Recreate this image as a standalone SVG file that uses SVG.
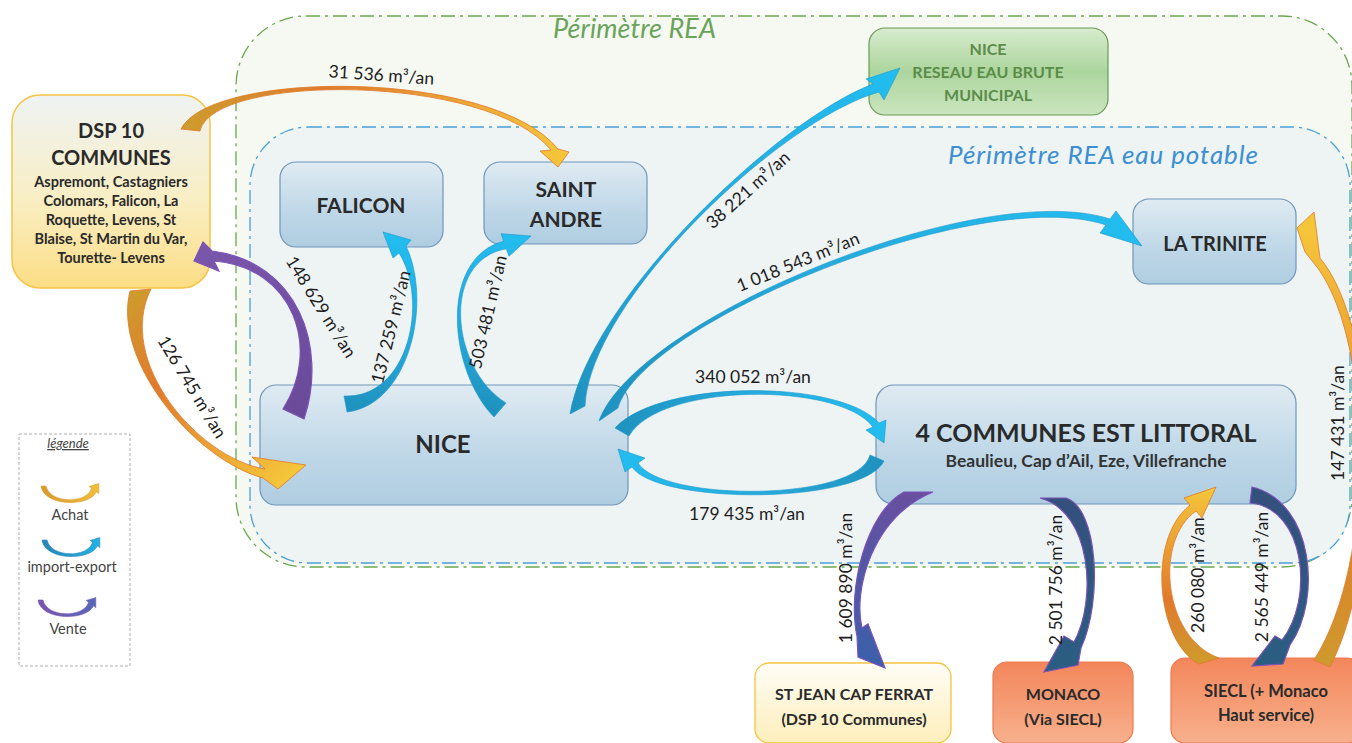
<svg xmlns="http://www.w3.org/2000/svg" xmlns:xlink="http://www.w3.org/1999/xlink" width="1352" height="743" viewBox="0 0 1352 743">
<defs>
<style>
.box{stroke:#6f97ba;stroke-width:1.2}
.t{font-family:Lato,'Liberation Sans',sans-serif;font-weight:700;fill:#2a2a2a;text-anchor:middle}
.lbl{font-family:Lato,'Liberation Sans',sans-serif;font-size:17.5px;fill:#1e1e1e;text-anchor:middle}
.leg{font-family:Lato,'Liberation Sans',sans-serif;font-size:14.5px;fill:#444;text-anchor:middle}
.ach{stroke:#e07a2a;stroke-width:0.8}
.imp{stroke:#1b97c8;stroke-width:0.6}
.ven{stroke:#7b52b8;stroke-width:1.2}
</style>
<linearGradient id="gBlue" x1="0" y1="0" x2="0" y2="1"><stop offset="0" stop-color="#e0ebf2"/><stop offset="0.55" stop-color="#c0d8e8"/><stop offset="1" stop-color="#afcde1"/></linearGradient>
<linearGradient id="gGreen" x1="0" y1="0" x2="0" y2="1"><stop offset="0" stop-color="#d8ecce"/><stop offset="0.5" stop-color="#acd59d"/><stop offset="1" stop-color="#cbe5bf"/></linearGradient>
<linearGradient id="gDsp" x1="0" y1="0" x2="0" y2="1"><stop offset="0" stop-color="#eef3f3"/><stop offset="0.55" stop-color="#f9eec3"/><stop offset="1" stop-color="#fcdd84"/></linearGradient>
<linearGradient id="gStj" x1="0" y1="0" x2="0" y2="1"><stop offset="0" stop-color="#fffdf6"/><stop offset="1" stop-color="#fdeebb"/></linearGradient>
<linearGradient id="gOrange" x1="0" y1="0" x2="0" y2="1"><stop offset="0" stop-color="#f3865b"/><stop offset="1" stop-color="#f7b08c"/></linearGradient>
<linearGradient id="gAchat"><stop offset="0" stop-color="#cf9a2c"/><stop offset="0.35" stop-color="#e07a2c"/><stop offset="1" stop-color="#f5c53a"/></linearGradient>
<linearGradient id="gImp"><stop offset="0" stop-color="#1f93c0"/><stop offset="0.4" stop-color="#25a9db"/><stop offset="1" stop-color="#22bdf0"/></linearGradient>
<linearGradient id="gVen"><stop offset="0" stop-color="#6a4a99"/><stop offset="1" stop-color="#7a56ab"/></linearGradient>
<linearGradient id="gVenB"><stop offset="0" stop-color="#6a4f9f"/><stop offset="1" stop-color="#3a60aa"/></linearGradient>
<linearGradient id="gVenT"><stop offset="0" stop-color="#34507c"/><stop offset="1" stop-color="#2b5e82"/></linearGradient>
<linearGradient id="a1" xlink:href="#gAchat" gradientUnits="userSpaceOnUse" x1="190" y1="130" x2="560" y2="165"/>
<linearGradient id="a2" xlink:href="#gAchat" gradientUnits="userSpaceOnUse" x1="140" y1="290" x2="300" y2="466"/>
<linearGradient id="a12" xlink:href="#gAchat" gradientUnits="userSpaceOnUse" x1="1209" y1="660" x2="1212" y2="490"/>
<linearGradient id="a14" xlink:href="#gAchat" gradientUnits="userSpaceOnUse" x1="1325" y1="665" x2="1300" y2="230"/>
<linearGradient id="i4" xlink:href="#gImp" gradientUnits="userSpaceOnUse" x1="346" y1="404" x2="383" y2="232"/>
<linearGradient id="i5" xlink:href="#gImp" gradientUnits="userSpaceOnUse" x1="500" y1="410" x2="530" y2="235"/>
<linearGradient id="i6" xlink:href="#gImp" gradientUnits="userSpaceOnUse" x1="575" y1="410" x2="898" y2="65"/>
<linearGradient id="i7" xlink:href="#gImp" gradientUnits="userSpaceOnUse" x1="605" y1="414" x2="1142" y2="246"/>
<linearGradient id="i8" xlink:href="#gImp" gradientUnits="userSpaceOnUse" x1="622" y1="432" x2="884" y2="443"/>
<linearGradient id="i9" xlink:href="#gImp" gradientUnits="userSpaceOnUse" x1="877" y1="458" x2="618" y2="449"/>
<linearGradient id="v3" xlink:href="#gVen" gradientUnits="userSpaceOnUse" x1="296" y1="414" x2="195" y2="260"/>
<linearGradient id="v10" xlink:href="#gVenB" gradientUnits="userSpaceOnUse" x1="918" y1="492" x2="870" y2="668"/>
<linearGradient id="v11" xlink:href="#gVenT" gradientUnits="userSpaceOnUse" x1="1052" y1="498" x2="1050" y2="672"/>
<linearGradient id="v13" xlink:href="#gVenT" gradientUnits="userSpaceOnUse" x1="1251" y1="495" x2="1255" y2="666"/>
<linearGradient id="lgA"><stop offset="0" stop-color="#d69a2c"/><stop offset="1" stop-color="#f0bf3a"/></linearGradient>
<linearGradient id="lgI"><stop offset="0" stop-color="#2a86b8"/><stop offset="1" stop-color="#1fb2e4"/></linearGradient>
<linearGradient id="lgV"><stop offset="0" stop-color="#7a55b0"/><stop offset="1" stop-color="#5468b8"/></linearGradient>
<path id="legArrow" d="M41,486 C44,507 90,507 96.4,491.8 L98.8,493.6 L98.8,483.6 L89.2,486.4 L91.6,488.2 C87,504 50,504 46,486 Z"/>
</defs>

<rect width="1352" height="743" fill="#ffffff"/>

<g id="perimetre-rea">
<rect x="236" y="16" width="1116" height="551" rx="70" fill="#f5f9f2" stroke="#6aa84f" stroke-width="1.3" stroke-dasharray="14 5 3 5"/>
<text x="553" y="38" font-family="Lato,'Liberation Sans',sans-serif" font-style="italic" font-size="27" fill="#6aa35a" textLength="163">Périmètre REA</text>
</g>
<g id="perimetre-eau-potable">
<rect x="250" y="127" width="1100" height="436" rx="58" fill="#eef3f4" stroke="#4a9fd8" stroke-width="1.3" stroke-dasharray="14 5 3 5"/>
<text x="948" y="164" font-family="Lato,'Liberation Sans',sans-serif" font-style="italic" font-size="26" fill="#3b8fd2" textLength="310">Périmètre REA eau potable</text>
</g>

<g id="dsp10">
<rect x="12" y="95" width="198" height="193" rx="28" fill="url(#gDsp)" stroke="#f5c445" stroke-width="1.5"/>
<text class="t" x="111" y="138" font-size="20">DSP 10</text>
<text class="t" x="111" y="165" font-size="20">COMMUNES</text>
<text class="t" x="111" y="187" font-size="14.5">Aspremont, Castagniers</text>
<text class="t" x="111" y="206" font-size="14.5">Colomars, Falicon, La</text>
<text class="t" x="111" y="225" font-size="14.5">Roquette, Levens, St</text>
<text class="t" x="111" y="244" font-size="14.5">Blaise, St Martin du Var,</text>
<text class="t" x="111" y="263" font-size="14.5">Tourette- Levens</text>
</g>
<g id="falicon">
<rect class="box" x="280" y="162" width="163" height="85" rx="16" fill="url(#gBlue)"/>
<text class="t" x="361" y="213" font-size="21">FALICON</text>
</g>
<g id="saint-andre">
<rect class="box" x="484" y="162" width="163" height="82" rx="16" fill="url(#gBlue)"/>
<text class="t" x="566" y="197" font-size="21">SAINT</text>
<text class="t" x="566" y="227" font-size="21">ANDRE</text>
</g>
<g id="nice">
<rect class="box" x="260" y="385" width="368" height="120" rx="16" fill="url(#gBlue)"/>
<text class="t" x="443" y="453" font-size="24">NICE</text>
</g>
<g id="nice-eau-brute">
<rect x="869" y="28" width="239" height="87" rx="16" fill="url(#gGreen)" stroke="#6b9a58" stroke-width="1.2"/>
<text class="t" x="988" y="55" font-size="16" style="fill:#5b8c4a">NICE</text>
<text class="t" x="988" y="78" font-size="16" style="fill:#5b8c4a">RESEAU EAU BRUTE</text>
<text class="t" x="988" y="101" font-size="16" style="fill:#5b8c4a">MUNICIPAL</text>
</g>
<g id="la-trinite">
<rect class="box" x="1133" y="199" width="163" height="85" rx="16" fill="url(#gBlue)"/>
<text class="t" x="1215" y="251" font-size="20">LA TRINITE</text>
</g>
<g id="communes-est">
<rect class="box" x="876" y="385" width="420" height="119" rx="18" fill="url(#gBlue)"/>
<text class="t" x="1086" y="442" font-size="25">4 COMMUNES EST LITTORAL</text>
<text class="t" x="1086" y="467" font-size="17.5" style="fill:#333">Beaulieu, Cap d’Ail, Eze, Villefranche</text>
</g>
<g id="st-jean">
<rect x="755" y="663" width="196" height="80" rx="14" fill="url(#gStj)" stroke="#f5c340" stroke-width="1.3"/>
<text class="t" x="854" y="700" font-size="16">ST JEAN CAP FERRAT</text>
<text class="t" x="854" y="725" font-size="16">(DSP 10 Communes)</text>
</g>
<g id="monaco">
<rect x="993" y="662" width="140" height="81" rx="14" fill="url(#gOrange)" stroke="#ee7a50" stroke-width="1.2"/>
<text class="t" x="1063" y="700" font-size="16">MONACO</text>
<text class="t" x="1063" y="725" font-size="16">(Via SIECL)</text>
</g>
<g id="siecl">
<rect x="1171" y="658" width="190" height="85" rx="14" fill="url(#gOrange)" stroke="#ee7a50" stroke-width="1.2"/>
<text class="t" x="1266" y="697" font-size="16.5">SIECL (+ Monaco</text>
<text class="t" x="1266" y="721" font-size="16.5">Haut service)</text>
</g>

<g id="connectors">
<path class="ach" fill="url(#a1)" d="M181,129 C210,70 492,68 558,149 L569,152 L558,167 L540,151 L551,150 C488,73 213,73 200,131 Z"/>
<path class="ach" fill="url(#a2)" d="M130,291 C112,362 196,460 263,478 L278,489 L306,465 L252,457 L265,469 C198,458 115,361 151,289 Z"/>
<path class="ven" fill="url(#v3)" d="M304,419 C328,347 298,262 212,251 L203,242 L194,261 L219,271 L214,261 C293,267 322,348 283,409 Z"/>
<path class="imp" fill="url(#i4)" d="M347,412 C411,404 432,300 406,246 L411,240 L383,232 L393,258 L399,253 C429,300 409,399 344,396 Z"/>
<path class="imp" fill="url(#i5)" d="M494,417 C448,370 439,258 503.7,241.2 L501,233.7 L531,236 L509,256.3 L506.3,248.8 C441,260 450,368 506,403 Z"/>
<path class="imp" fill="url(#i6)" d="M570,414 C589,300 779,119 873,84 L866,79 L900,68 L884,100 L879,92 C780,120 590,300 585,406 Z"/>
<path class="imp" fill="url(#i7)" d="M599,421 C637,318 980,177 1110,219 L1116,211 L1142,246 L1100,233 L1106,225 C980,183 643,322 618,408 Z"/>
<path class="imp" fill="url(#i8)" d="M615,428 C660,379 840,379 879,423 L886,420 L884,443 L866,430 L873,427 C840,382 660,382 629,436 Z"/>
<path class="imp" fill="url(#i9)" d="M884,461 C862,505 658,505 632,467 L625,472 L618,449 L645,458 L638,463 C662,502 858,502 870,455 Z"/>
<path class="ven" fill="url(#v10)" d="M904,492 C866,512 847,590 857,636 L858,657 L885,668 L868,624 L862,628 C853,590 872,517 933,492 Z"/>
<path class="ven" fill="url(#v11)" d="M1066,498 C1098,508 1103,600 1081,648 L1078,665 L1044,672 L1064,636 L1074,642 C1097,600 1092,512 1040,498 Z"/>
<path class="ach" fill="url(#a12)" d="M1199,664 C1157,642 1146,540 1190,505 L1184,498 L1216,487 L1202,518 L1196,511 C1154,540 1163,638 1219,658 Z"/>
<path class="ven" fill="url(#v13)" d="M1252,487 C1314,502 1322,600 1290,645 L1283,664 L1252,666 L1275,636 L1282,640 C1314,600 1306,508 1250,503 Z"/>
<path class="ach" fill="url(#a14)" d="M1330,667 C1385,560 1380,330 1320,258 L1314,212 L1297,228 L1305,252 L1313,262 C1373,332 1378,560 1314,660 Z"/>

<text class="lbl" transform="translate(381,81) rotate(4)">31 536 m³/an</text>
<text class="lbl" transform="translate(192,387) rotate(59)" y="6">126 745 m³/an</text>
<text class="lbl" transform="translate(321,307) rotate(58)" y="6">148 629 m³/an</text>
<text class="lbl" transform="translate(391,327) rotate(-76)" y="6">137 259 m³/an</text>
<text class="lbl" transform="translate(488,312) rotate(-77)" y="6">503 481 m³/an</text>
<text class="lbl" transform="translate(748,190) rotate(-42)" y="6">38 221 m³/an</text>
<text class="lbl" transform="translate(798,262) rotate(-22)" y="6">1 018 543 m³/an</text>
<text class="lbl" x="753" y="383">340 052 m³/an</text>
<text class="lbl" x="747" y="520">179 435 m³/an</text>
<text class="lbl" transform="translate(846,578) rotate(-90)" y="6">1 609 890 m³/an</text>
<text class="lbl" transform="translate(1056,580) rotate(-90)" y="6">2 501 756 m³/an</text>
<text class="lbl" transform="translate(1198,575) rotate(-90)" y="6">260 080 m³/an</text>
<text class="lbl" transform="translate(1262,577) rotate(-90)" y="6">2 565 449 m³/an</text>
<text class="lbl" transform="translate(1338,423) rotate(-90)" y="6">147 431 m³/an</text>
</g>

<g id="legende">
<rect x="19" y="434" width="111" height="232" fill="#ffffff" stroke="#b0b0b0" stroke-width="1" stroke-dasharray="3 2"/>
<text x="68" y="448" font-family="Lato,'Liberation Sans',sans-serif" font-style="italic" font-size="13" fill="#444" text-anchor="middle" text-decoration="underline">légende</text>
<use xlink:href="#legArrow" fill="url(#lgA)" stroke="#e09a30" stroke-width="0.6"/>
<text class="leg" x="70" y="520">Achat</text>
<use xlink:href="#legArrow" transform="translate(1,54)" fill="url(#lgI)" stroke="#2a86b8" stroke-width="0.6"/>
<text class="leg" x="72" y="572">import-export</text>
<use xlink:href="#legArrow" transform="translate(-3,114)" fill="url(#lgV)" stroke="#7a55b0" stroke-width="0.6"/>
<text class="leg" x="68" y="634">Vente</text>
</g>
</svg>
